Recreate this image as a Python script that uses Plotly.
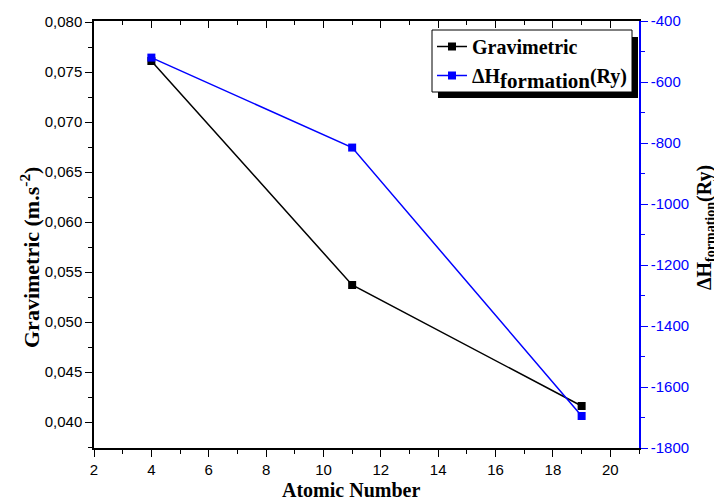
import plotly.graph_objects as go

atomic_number = [4, 11, 19]
gravimetric = [0.0761, 0.0537, 0.0416]
dh_formation = [-520, -815, -1695]

x_ticks = [2, 4, 6, 8, 10, 12, 14, 16, 18, 20]
left_ticks = [0.040, 0.045, 0.050, 0.055, 0.060, 0.065, 0.070, 0.075, 0.080]
left_labels = ["0,040", "0,045", "0,050", "0,055", "0,060", "0,065", "0,070", "0,075", "0,080"]
right_ticks = [-1800, -1600, -1400, -1200, -1000, -800, -600, -400]
right_labels = ["-1800", "-1600", "-1400", "-1200", "-1000", "-800", "-600", "-400"]

# page offset of the figure (default body margin)
OX, OY = 8, 8
# desired plot area in page pixels
PL, PR, PT, PB = 94, 639, 21, 448
W, H = 714, 493
L, T = PL - OX, PT - OY
pw, ph = PR - PL, PB - PT
R, B = W - L - pw, H - T - ph

def px(xp):
    return (xp - PL) / pw

def py(yp):
    return (PB - yp) / ph

fig = go.Figure()
fig.add_trace(go.Scatter(
    x=atomic_number, y=gravimetric, name="<b>Gravimetric</b>", mode="lines+markers",
    line=dict(color="black", width=1.5),
    marker=dict(symbol="square", size=8, color="black"),
))
fig.add_trace(go.Scatter(
    x=atomic_number, y=dh_formation,
    name="<b>ΔH<sub><span style='font-size:21px'>formation</span></sub>(Ry)</b>",
    mode="lines+markers", yaxis="y2",
    line=dict(color="blue", width=1.5),
    marker=dict(symbol="square", size=8, color="blue"),
))
fig.add_trace(go.Scatter(x=[2], y=[0.05], xaxis="x2", yaxis="y", mode="markers",
                         marker=dict(opacity=0), showlegend=False, hoverinfo="skip"))

tickfont = dict(family="Liberation Sans, Arial", size=15, color="black")
serif = "Liberation Serif, Times New Roman"

fig.update_layout(
    width=W, height=H,
    margin=dict(l=L, r=R, t=T, b=B, autoexpand=False),
    paper_bgcolor="white", plot_bgcolor="white",
    xaxis=dict(
        range=[2, 21], tickvals=x_ticks, ticks="outside", ticklen=7, tickwidth=1.3,
        tickcolor="black", showline=True, linecolor="black", linewidth=1.5,
        showgrid=False, zeroline=False, tickfont=tickfont,
        minor=dict(dtick=1, ticks="outside", ticklen=4, tickcolor="black", tickwidth=1),
    ),
    xaxis2=dict(
        range=[2, 21], overlaying="x", side="top", tickvals=x_ticks, ticks="inside",
        ticklen=7, tickcolor="black", tickwidth=1.3, showticklabels=False,
        showline=True, linecolor="black", linewidth=1.5, showgrid=False, zeroline=False,
        minor=dict(dtick=1, ticks="inside", ticklen=4, tickcolor="black", tickwidth=1),
    ),
    yaxis=dict(
        range=[0.0374, 0.0801], tickvals=left_ticks, ticktext=left_labels,
        ticks="outside", ticklen=7, tickwidth=1.3, tickcolor="black",
        showline=True, linecolor="black", linewidth=1.5, showgrid=False, zeroline=False,
        tickfont=tickfont,
        minor=dict(dtick=0.0025, tick0=0.040, ticks="outside", ticklen=4, tickcolor="black", tickwidth=1),
    ),
    yaxis2=dict(
        range=[-1800, -400], overlaying="y", side="right", tickvals=right_ticks,
        ticktext=right_labels,
        ticks="outside", ticklen=7, tickwidth=1.3, tickcolor="blue",
        showline=True, linecolor="blue", linewidth=1.5, showgrid=False, zeroline=False,
        tickfont=dict(family="Liberation Sans, Arial", size=15, color="blue"),
        minor=dict(dtick=100, ticks="outside", ticklen=4, tickcolor="blue", tickwidth=1),
    ),
    legend=dict(
        x=px(432), y=py(27), xanchor="left", yanchor="top",
        bgcolor="rgba(0,0,0,0)", borderwidth=0,
        font=dict(family=serif, size=20, color="black"),
        itemwidth=30, tracegroupgap=0,
    ),
    showlegend=True,
    annotations=[
        dict(text="<b>Atomic Number</b>", xref="paper", yref="paper",
             x=px(351), y=py(489.5), xanchor="center", yanchor="middle", showarrow=False,
             font=dict(family=serif, size=20, color="black")),
        dict(text="<b>Gravimetric (m.s<sup>-2</sup>)</b>", xref="paper", yref="paper",
             x=px(30), y=py(258), xanchor="center", yanchor="middle", showarrow=False,
             textangle=-90, font=dict(family=serif, size=22, color="black")),
        dict(text="<b>ΔH<sub>formation</sub>(Ry)</b>", xref="paper", yref="paper",
             x=px(705), y=py(228), xanchor="center", yanchor="middle", showarrow=False,
             textangle=-90, font=dict(family=serif, size=20, color="black")),
    ],
    shapes=[
        dict(type="rect", xref="paper", yref="paper",
             x0=px(438), x1=px(638), y0=py(98), y1=py(37),
             fillcolor="black", line=dict(width=0), layer="above"),
        dict(type="rect", xref="paper", yref="paper",
             x0=px(432), x1=px(632), y0=py(92), y1=py(30),
             fillcolor="white", line=dict(width=1, color="black"), layer="above"),
    ],
)

fig.write_html("out.html")
